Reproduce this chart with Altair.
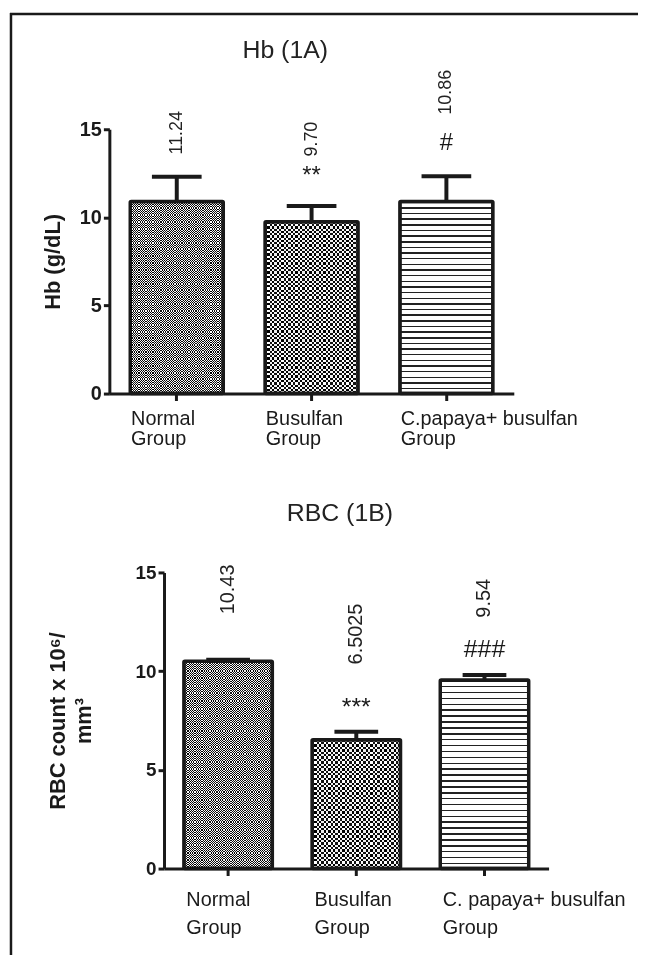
import altair as alt
import pandas as pd

# ---------------- data ----------------
hb_groups = ["Normal Group", "Busulfan Group", "C.papaya+ busulfan Group"]
hb_mean = [10.9, 9.75, 10.9]
hb_upper = [12.3, 10.65, 12.33]
hb_value_text = ["11.24", "9.70", "10.86"]
hb_value_pos = [14.8, 14.44, 17.1]
hb_sig_text = ["", "**", "#"]
hb_sig_pos = [12.0, 12.35, 14.2]

rbc_groups = ["Normal Group", "Busulfan Group", "C. papaya+ busulfan Group"]
rbc_mean = [10.5, 6.53, 9.55]
rbc_upper = [10.58, 6.93, 9.81]
rbc_value_text = ["10.43", "6.5025", "9.54"]
rbc_value_pos = [14.14, 11.88, 13.69]
rbc_sig_text = ["", "***", "###"]
rbc_sig_pos = [8.0, 8.2, 11.1]

y_ticks = [0, 5, 10, 15]

df_hb = pd.DataFrame({"group": hb_groups, "mean": hb_mean, "upper": hb_upper,
                      "vtext": hb_value_text, "vpos": hb_value_pos,
                      "stext": hb_sig_text, "spos": hb_sig_pos})
df_rbc = pd.DataFrame({"group": rbc_groups, "mean": rbc_mean, "upper": rbc_upper,
                       "vtext": rbc_value_text, "vpos": rbc_value_pos,
                       "stext": rbc_sig_text, "spos": rbc_sig_pos})

W, H = 632, 948
INK = "#1a1a1a"
FONT = "Liberation Sans"


def stripes(n, frac, dark, light, along_y):
    stops = []
    for i in range(n):
        a = round(i / n, 6)
        b = round((i + frac) / n, 6)
        c = round((i + 1) / n, 6)
        stops += [{"offset": a, "color": dark}, {"offset": b, "color": dark},
                  {"offset": b, "color": light}, {"offset": c, "color": light}]
    return {"gradient": "linear", "stops": stops, "x1": 0, "y1": 0,
            "x2": 0 if along_y else 1, "y2": 1 if along_y else 0}


SPLIT = ("[slice(datum.label, 0, lastindexof(datum.label, ' ')), "
         "slice(datum.label, lastindexof(datum.label, ' ') + 1)]")


def panel(df, groups, xrange, yrange, xoff, yoff, lab_size, lab_lh, lab_off,
          lab_pad, tick_size, ytitle, ytitle_size, ytitle_pad,
          val_size, sig_size, cap_size, normal_grid, bus_grid, pap_lines):
    xs = alt.X("group:N", sort=groups, title=None,
               scale=alt.Scale(domain=groups, range=xrange, paddingInner=0.31, paddingOuter=0.155),
               axis=alt.Axis(orient="bottom", offset=yoff, labelExpr=SPLIT, labelAngle=0,
                             labelAlign="left", labelBaseline="top", labelOffset=lab_off,
                             labelPadding=lab_pad, labelFont=FONT, labelFontSize=lab_size,
                             labelLineHeight=lab_lh, labelColor=INK, labelBound=False,
                             labelOverlap=False, labelFlush=False, labelLimit=0,
                             domainColor=INK, domainWidth=3, tickColor=INK, tickWidth=3,
                             tickSize=7, grid=False))
    yaxis = alt.Axis(orient="left", offset=xoff, values=y_ticks, title=ytitle,
                     titleFont=FONT, titleFontSize=ytitle_size,
                     titleFontWeight="bold", titleColor=INK, titleLineHeight=26,
                     titlePadding=ytitle_pad, titleLimit=0,
                     labelFont=FONT, labelFontSize=tick_size, labelFontWeight="bold",
                     labelColor=INK, labelPadding=2, domainColor=INK, domainWidth=3,
                     tickColor=INK, tickWidth=3, tickSize=6, grid=False)
    ysc = alt.Scale(domain=[0, 15], range=yrange, nice=False, zero=True)

    def Y(field):
        return alt.Y(field + ":Q", scale=ysc, axis=yaxis)

    base = alt.Chart(df)
    layers = []
    # Normal: fine checkerboard
    nb = base.transform_filter(alt.datum.group == groups[0])
    layers.append(nb.mark_bar(fill=stripes(normal_grid[0], 0.5, "#111111", "#ffffff", False))
                  .encode(x=xs, y=Y("mean")))
    layers.append(nb.mark_bar(fill=stripes(normal_grid[1], 0.5, "#ffffff", "#000000", True),
                              blend="difference")
                  .encode(x=xs, y=Y("mean")))
    # Busulfan: coarse checkerboard
    bb = base.transform_filter(alt.datum.group == groups[1])
    layers.append(bb.mark_bar(fill=stripes(bus_grid[0], 0.5, "#111111", "#ffffff", False))
                  .encode(x=xs, y=Y("mean")))
    layers.append(bb.mark_bar(fill=stripes(bus_grid[1], 0.5, "#ffffff", "#000000", True),
                              blend="difference")
                  .encode(x=xs, y=Y("mean")))
    # C. papaya: horizontal lines
    pb = base.transform_filter(alt.datum.group == groups[2])
    layers.append(pb.mark_bar(fill=stripes(pap_lines, 0.26, "#222222", "#ffffff", True))
                  .encode(x=xs, y=Y("mean")))
    # outlines
    layers.append(base.mark_bar(fillOpacity=0, stroke=INK, strokeWidth=3.5, cornerRadius=1)
                  .encode(x=xs, y=Y("mean")))
    # error bars
    layers.append(base.mark_rule(color=INK, strokeWidth=4, opacity=1)
                  .encode(x=xs, y=Y("mean"), y2="upper:Q"))
    layers.append(base.mark_tick(color=INK, thickness=4, size=cap_size, opacity=1)
                  .encode(x=xs, y=Y("upper")))
    # value labels
    layers.append(base.mark_text(angle=270, font=FONT, fontSize=val_size,
                                 color="#222222", align="center", baseline="middle")
                  .encode(x=xs, y=Y("vpos"), text="vtext:N"))
    # significance marks
    layers.append(base.transform_filter(alt.datum.stext != "")
                  .mark_text(font=FONT, fontSize=sig_size, color="#1a1a1a",
                             align="center", baseline="middle")
                  .encode(x=xs, y=Y("spos"), text="stext:N"))
    return alt.layer(*layers)


top = panel(df_hb, hb_groups, [100, 507], [383, 117], -100, 383 - H,
            20, 20, -46, 8, 20,
            "Hb (g/dL)", 22, 15, 18, 24, 50, (40, 82), (20, 38), 34)
bottom = panel(df_rbc, rbc_groups, [155, 542], [861, 563], -155, 861 - H,
               20, 28, -42, 14, 19,
               ["RBC count x 10\u2076/", "mm\u00b3"], 22, 40, 20, 25, 44, (38, 90), (19, 27), 32)

one = pd.DataFrame({"a": [0]})
border = alt.layer(
    alt.Chart(one).mark_rule(color=INK, strokeWidth=2.5)
    .encode(x=alt.value(1), y=alt.value(0), y2=alt.value(H)),
    alt.Chart(one).mark_rule(color=INK, strokeWidth=2.5)
    .encode(x=alt.value(0), x2=alt.value(W), y=alt.value(1)),
)
titles = alt.layer(
    alt.Chart(one).mark_text(text="Hb (1A)", font=FONT, fontSize=25,
                             color="#222222", baseline="middle")
    .encode(x=alt.value(277), y=alt.value(37)),
    alt.Chart(one).mark_text(text="RBC (1B)", font=FONT, fontSize=25,
                             color="#222222", baseline="middle")
    .encode(x=alt.value(332), y=alt.value(503)),
)

chart = alt.layer(top, bottom, border, titles).resolve_scale(
    x="independent", y="independent"
).properties(width=W, height=H, padding=0, background="white").configure_view(stroke=None)

chart.save("out.html", embed_options={"renderer": "svg", "actions": False})
